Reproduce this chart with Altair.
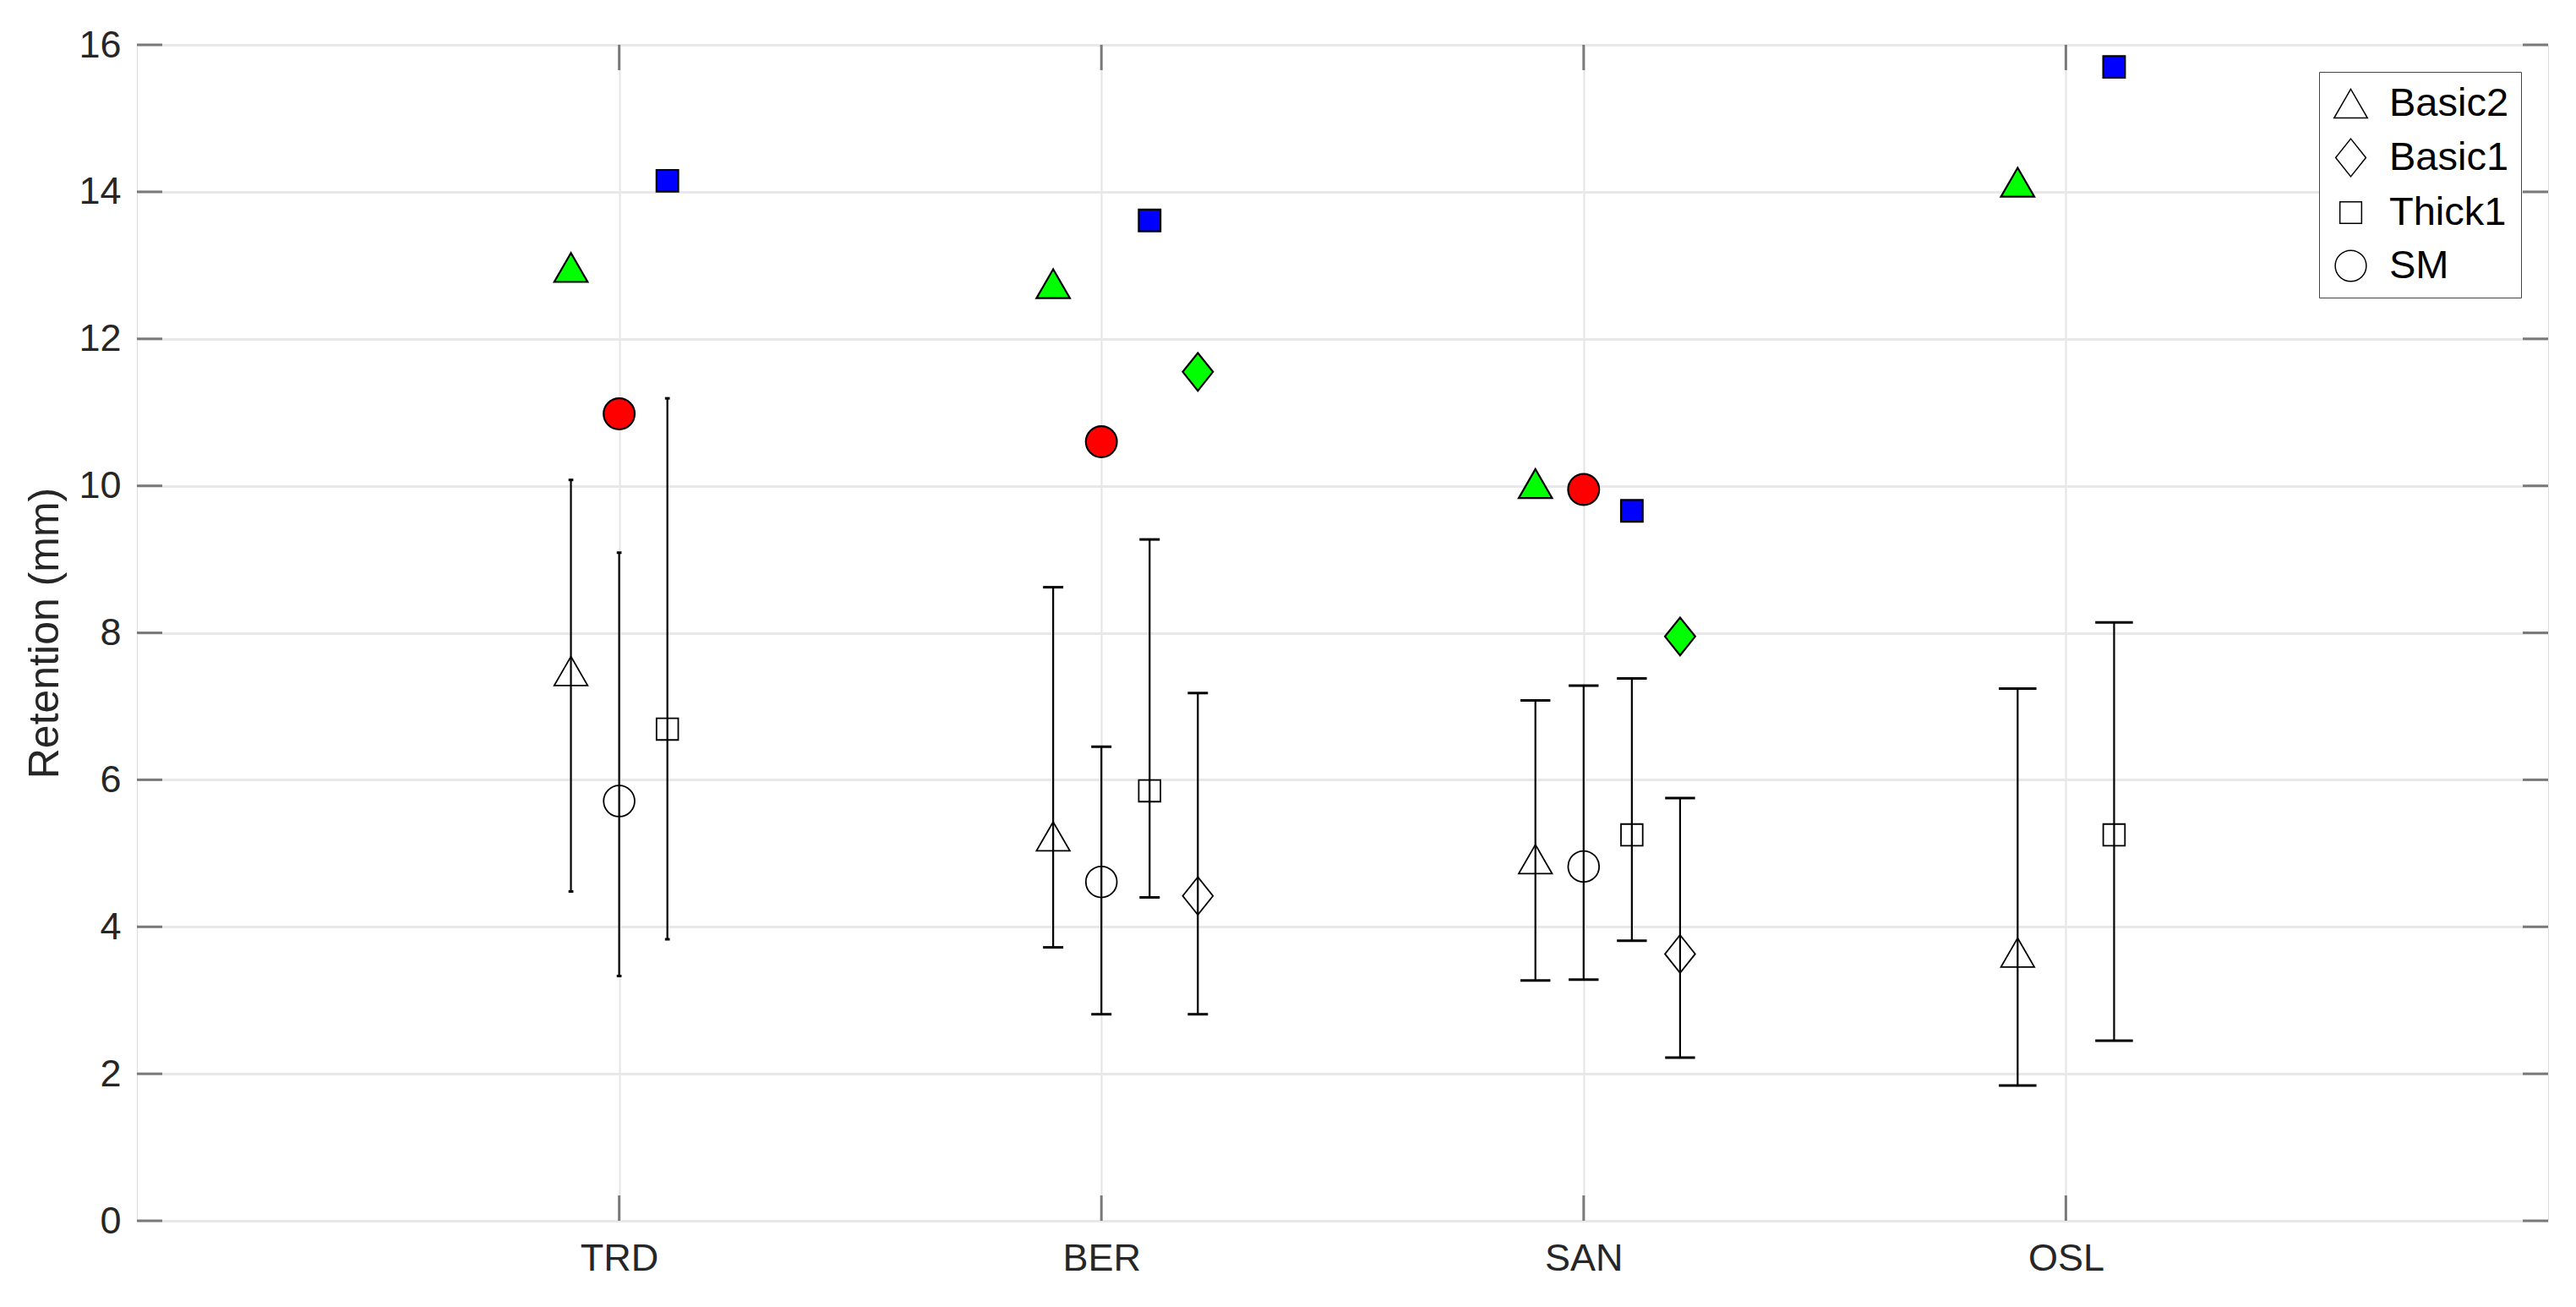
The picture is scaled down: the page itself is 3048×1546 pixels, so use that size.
import altair as alt
import pandas as pd

# ---------------- data ----------------
sites = ["TRD", "BER", "SAN", "OSL"]
models = ["Basic2", "Basic1", "Thick1", "SM"]

basic2_mean = [7.48, 5.23, 4.92, 3.65]
basic2_lo = [4.48, 3.72, 3.27, 1.84]
basic2_hi = [10.08, 8.62, 7.08, 7.24]
basic2_max = [12.97, 12.75, 10.03, 14.13]

basic1_mean = [None, 4.42, 3.63, None]
basic1_lo = [None, 2.81, 2.22, None]
basic1_hi = [None, 7.18, 5.75, None]
basic1_max = [None, 11.55, 7.95, None]

thick1_mean = [6.69, 5.85, 5.25, 5.25]
thick1_lo = [3.83, 4.40, 3.81, 2.45]
thick1_hi = [11.19, 9.27, 7.38, 8.14]
thick1_max = [14.15, 13.61, 9.66, 15.70]

sm_mean = [5.71, 4.61, 4.82, None]
sm_lo = [3.33, 2.81, 3.28, None]
sm_hi = [9.09, 6.45, 7.28, None]
sm_max = [10.98, 10.60, 9.95, None]

y_ticks = [0, 2, 4, 6, 8, 10, 12, 14, 16]
x_ticks = [1, 2, 3, 4]

# ---------------- styling parameters ----------------
offsets = {"Basic2": -0.1, "SM": 0.0, "Thick1": 0.1, "Basic1": 0.2}
cap_half = {"TRD": 0.005, "BER": 0.021, "SAN": 0.031, "OSL": 0.039}

series = {
    "Basic2": (basic2_mean, basic2_lo, basic2_hi, basic2_max),
    "Basic1": (basic1_mean, basic1_lo, basic1_hi, basic1_max),
    "Thick1": (thick1_mean, thick1_lo, thick1_hi, thick1_max),
    "SM": (sm_mean, sm_lo, sm_hi, sm_max),
}

rows = []
for m in models:
    mean, lo, hi, mx = series[m]
    for i, s in enumerate(sites):
        if mean[i] is None:
            continue
        xp = i + 1 + offsets[m]
        rows.append({
            "site": s, "model": m, "grp": m, "xpos": xp,
            "xl": xp - cap_half[s], "xr": xp + cap_half[s],
            "mean": mean[i], "lo": lo[i], "hi": hi[i], "max": mx[i],
        })
df = pd.DataFrame(rows)

FONT = "Liberation Sans"
TXT = "#262626"
W, H = 2853, 1391
DIAMOND = "M0,-1L0.8,0L0,1L-0.8,0Z"

label_expr = "[" + ",".join(["''"] + ["'%s'" % s for s in sites] + ["''"]) + "][datum.value]"

x_scale = alt.Scale(domain=[0, 5], nice=False, zero=False)
y_scale = alt.Scale(domain=[0, 16], nice=False, zero=True)

x_axis = alt.Axis(values=x_ticks, labelExpr=label_expr, title=None, grid=True,
                  gridColor="#e4e4e4", gridWidth=2, ticks=False, tickSize=0,
                  domain=False, labelFontSize=45, labelColor=TXT, labelFont=FONT,
                  labelPadding=22)
y_axis = alt.Axis(values=y_ticks, title="Retention (mm)", grid=True,
                  gridColor="#e8e8e8", gridWidth=3, ticks=False, tickSize=0,
                  domain=False, labelFontSize=45, labelColor=TXT, labelFont=FONT,
                  labelPadding=19, titleFontSize=50, titleFont=FONT,
                  titleColor=TXT, titleFontWeight="normal", titlePadding=14)

shape_range = ["triangle-up", DIAMOND, "square", "circle"]
size_range = [1560, 2000, 660, 1350]
shape_scale = alt.Scale(type="ordinal", domain=models, range=shape_range)
size_scale = alt.Scale(type="ordinal", domain=models, range=size_range)
fill_scale = alt.Scale(type="ordinal", domain=models,
                       range=["#00ff00", "#00ff00", "#0000ff", "#ff0000"])

base = alt.Chart(df)

err = base.mark_rule(color="black", strokeWidth=2.2).encode(
    x=alt.X("xpos:Q", scale=x_scale, axis=x_axis),
    y=alt.Y("lo:Q", scale=y_scale, axis=y_axis),
    y2="hi:Q",
)
cap_lo = base.mark_rule(color="black", strokeWidth=3).encode(
    x=alt.X("xl:Q", scale=x_scale, axis=x_axis), x2="xr:Q",
    y=alt.Y("lo:Q", scale=y_scale, axis=y_axis),
)
cap_hi = base.mark_rule(color="black", strokeWidth=3).encode(
    x=alt.X("xl:Q", scale=x_scale, axis=x_axis), x2="xr:Q",
    y=alt.Y("hi:Q", scale=y_scale, axis=y_axis),
)

legend = alt.Legend(title=None, orient="top-right", offset=32, labelFontSize=47,
                    labelFont=FONT, labelColor="black", padding=14, rowPadding=15,
                    labelOffset=22, strokeColor="#444444", fillColor="white",
                    symbolStrokeColor="black", symbolStrokeWidth=1.5,
                    symbolFillColor="transparent", cornerRadius=0)

open_pts = base.mark_point(filled=False, stroke="black", strokeWidth=1.8, opacity=1).encode(
    x=alt.X("xpos:Q", scale=x_scale, axis=x_axis),
    y=alt.Y("mean:Q", scale=y_scale, axis=y_axis),
    shape=alt.Shape("model:N", scale=shape_scale, legend=legend),
    size=alt.Size("model:N", scale=size_scale, legend=legend),
)

filled_pts = base.mark_point(filled=True, stroke="black", strokeWidth=2.2, opacity=1,
                             fillOpacity=1).encode(
    x=alt.X("xpos:Q", scale=x_scale, axis=x_axis),
    y=alt.Y("max:Q", scale=y_scale, axis=y_axis),
    shape=alt.Shape("grp:N", scale=shape_scale, legend=None),
    size=alt.Size("grp:N", scale=size_scale, legend=None),
    fill=alt.Fill("grp:N", scale=fill_scale, legend=None),
)

ydf = pd.DataFrame({"v": y_ticks})
xdf = pd.DataFrame({"v": x_ticks})
TC = "#4a4a4a"
yt_left = alt.Chart(ydf).mark_tick(orient="horizontal", size=30, thickness=3, color=TC).encode(
    y=alt.Y("v:Q", scale=y_scale, axis=y_axis), x=alt.value(15))
yt_right = alt.Chart(ydf).mark_tick(orient="horizontal", size=30, thickness=3, color=TC).encode(
    y=alt.Y("v:Q", scale=y_scale, axis=y_axis), x=alt.value(W - 15))
xt_bot = alt.Chart(xdf).mark_tick(orient="vertical", size=30, thickness=3, color=TC).encode(
    x=alt.X("v:Q", scale=x_scale, axis=x_axis), y=alt.value(H - 15))
xt_top = alt.Chart(xdf).mark_tick(orient="vertical", size=30, thickness=3, color=TC).encode(
    x=alt.X("v:Q", scale=x_scale, axis=x_axis), y=alt.value(15))

chart = alt.layer(
    err, cap_lo, cap_hi, filled_pts, open_pts, yt_left, yt_right, xt_bot, xt_top
).resolve_scale(
    shape="independent", size="independent", fill="independent"
).properties(
    width=W, height=H,
    padding={"left": 154, "top": 45, "right": 25, "bottom": 90},
    autosize=alt.AutoSizeParams(type="none"),
    background="white",
).configure_view(
    stroke="#4a4a4a", strokeWidth=3
).configure(font=FONT)

chart.save("out.html", embed_options={"renderer": "svg", "actions": False})
